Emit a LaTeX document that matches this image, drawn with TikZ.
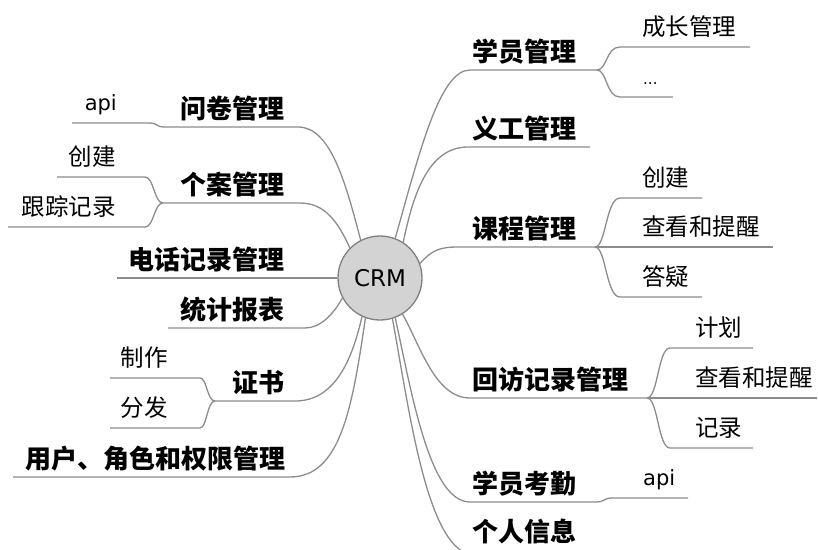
\documentclass[tikz,border=0pt]{standalone}
\usepackage{fontspec}
\setmainfont{DejaVu Sans}
\newfontfamily\cjk{Noto Sans CJK SC}
\usetikzlibrary{positioning}
\definecolor{line_gray}{RGB}{140, 140, 140}
\definecolor{ring_out}{RGB}{128, 128, 128}
\definecolor{ring_fil}{RGB}{211, 211, 211}
\newcommand\lwid{1.3pt}
\tikzset{center_topic/.style = {circle, inner sep=0pt, minimum size=84pt, draw=ring_out, fill=ring_fil, line width=\lwid, font=\fontsize{23pt}{23pt}\selectfont}}
\tikzset{main_topic/.style = {inner sep=0pt, font=\cjk\bfseries\fontsize{26pt}{26pt}\selectfont}}
\tikzset{sub_topic/.style = {inner sep=0pt, font=\cjk\fontsize{23.5pt}{24pt}\selectfont}}
\tikzset{api_topic/.style = {inner sep=0pt, font=\fontsize{21pt}{21pt}\selectfont}}
\tikzset{branch/.style = {line width=\lwid, line_gray}}

\begin{document}
\begin{tikzpicture}[x=1pt,y=-1pt]
\useasboundingbox (0,0) rectangle (818,549);
\node[center_topic] (crm) at (380,278) {CRM};

% right side
\coordinate (xy-a) at (470,70);  \coordinate (xy-b) at (597,70);
\coordinate (yg-a) at (468,147); \coordinate (yg-b) at (590,147);
\coordinate (kc-a) at (458,247); \coordinate (kc-b) at (595,247);
\coordinate (hf-a) at (470,398); \coordinate (hf-b) at (647,398);
\coordinate (kq-a) at (470,502); \coordinate (kq-b) at (597,502);
\coordinate (gr-a) at (475,555); \coordinate (gr-b) at (600,555);

\node[main_topic, anchor=base west] (xy) at (472,61) {学员管理};
\node[main_topic, anchor=base west] (yg) at (472,138) {义工管理};
\node[main_topic, anchor=base west] (kc) at (472,238) {课程管理};
\node[main_topic, anchor=base west] (hf) at (472,389) {回访记录管理};
\node[main_topic, anchor=base west] (kq) at (472,493) {学员考勤};
\node[main_topic, anchor=base west] (gr) at (472,541) {个人信息};

\draw[branch] (crm.69) .. controls (420,150) and (440,70) .. (xy-a) -- (xy-b);
\draw[branch] (crm.57) .. controls (413,195) and (428,147) .. (yg-a) -- (yg-b);
\draw[branch] (crm.20) .. controls (432,250) and (440,247) .. (kc-a) -- (kc-b);
\draw[branch] (crm.302) .. controls (420,345) and (435,398) .. (hf-a) -- (hf-b);
\draw[branch] (crm.291) .. controls (412,395) and (430,502) .. (kq-a) -- (kq-b);
\draw[branch] (crm.287) .. controls (410,415) and (428,555) .. (gr-a) -- (gr-b);

\coordinate (cz-a) at (620,47); \coordinate (cz-b) at (750,47);
\coordinate (xd-a) at (620,97); \coordinate (xd-b) at (673,97);
\node[sub_topic, anchor=base west] (cz) at (642,35) {成长管理};
\node[api_topic, font=\fontsize{15pt}{15pt}\selectfont, anchor=base west] (xd) at (643,84) {...};
\draw[branch] (xy-b) .. controls (607,70) and (606,47) .. (cz-a) -- (cz-b);
\draw[branch] (xy-b) .. controls (607,70) and (606,97) .. (xd-a) -- (xd-b);

\foreach \n/\y/\e/\t in {kc1/198/702/创建, kc2/247/773/查看和提醒, kc3/297/702/答疑}{
	\coordinate (\n-a) at (620,\y); \coordinate (\n-b) at (\e,\y);
	\node[sub_topic, anchor=base west] (\n) at (642,\y-12) {\t};
	\draw[branch] (kc-b) .. controls (606,247) and (606,\y) .. (\n-a) -- (\n-b);
	}
\foreach \n/\y/\e/\t in {hf1/348/753/计划, hf2/398/817/查看和提醒, hf3/448/753/记录}{
	\coordinate (\n-a) at (670,\y); \coordinate (\n-b) at (\e,\y);
	\node[sub_topic, anchor=base west] (\n) at (695,\y-12) {\t};
	\draw[branch] (hf-b) .. controls (658,398) and (658,\y) .. (\n-a) -- (\n-b);
	}

\coordinate (kq1-a) at (612,498); \coordinate (kq1-b) at (688,498);
\node[api_topic, anchor=base west] (kq1) at (643,485) {api};
\draw[branch] (kq-b) .. controls (604,502) and (604,498) .. (kq1-a) -- (kq1-b);

% left side
\coordinate (wj-a) at (298,127); \coordinate (wj-b) at (163,127);
\coordinate (ga-a) at (300,203); \coordinate (ga-b) at (163,203);
\coordinate (dh-b) at (117,278);
\coordinate (tj-a) at (305,328); \coordinate (tj-b) at (168,328);
\coordinate (zs-a) at (295,401); \coordinate (zs-b) at (215,401);
\coordinate (yh-a) at (290,477); \coordinate (yh-b) at (13,477);

\node[main_topic, anchor=base east] (wj) at (285,118) {问卷管理};
\node[main_topic, anchor=base east] (ga) at (285,194) {个案管理};
\node[main_topic, anchor=base east] (dh) at (285,269) {电话记录管理};
\node[main_topic, anchor=base east] (tj) at (285,319) {统计报表};
\node[main_topic, anchor=base east] (zs) at (285,392) {证书};
\node[main_topic, anchor=base east] (yh) at (286,468) {用户、角色和权限管理};

\draw[branch] (crm.117) .. controls (345,180) and (330,127) .. (wj-a) -- (wj-b);
\draw[branch] (crm.135) .. controls (338,222) and (325,203) .. (ga-a) -- (ga-b);
\draw[branch] (crm.west) -- (dh-b);
\draw[branch] (crm.208) .. controls (333,315) and (320,328) .. (tj-a) -- (tj-b);
\draw[branch] (crm.245) .. controls (352,360) and (335,401) .. (zs-a) -- (zs-b);
\draw[branch] (crm.250) .. controls (352,410) and (340,477) .. (yh-a) -- (yh-b);

\coordinate (wj1-a) at (150,123); \coordinate (wj1-b) at (72,123);
\node[api_topic, anchor=base east] (wj1) at (117,110) {api};
\draw[branch] (wj-b) .. controls (157,127) and (157,123) .. (wj1-a) -- (wj1-b);

\foreach \n/\y/\e/\t in {ga1/177/57/创建, ga2/227/8/跟踪记录}{
	\coordinate (\n-a) at (145,\y); \coordinate (\n-b) at (\e,\y);
	\node[sub_topic, anchor=base east] (\n) at (116,\y-12) {\t};
	\draw[branch] (ga-b) .. controls (154,203) and (154,\y) .. (\n-a) -- (\n-b);
	}
\foreach \n/\y/\t in {zs1/378/制作, zs2/428/分发}{
	\coordinate (\n-a) at (200,\y); \coordinate (\n-b) at (110,\y);
	\node[sub_topic, anchor=base east] (\n) at (168,\y-12) {\t};
	\draw[branch] (zs-b) .. controls (207,401) and (207,\y) .. (\n-a) -- (\n-b);
	}
\end{tikzpicture}
\end{document}
